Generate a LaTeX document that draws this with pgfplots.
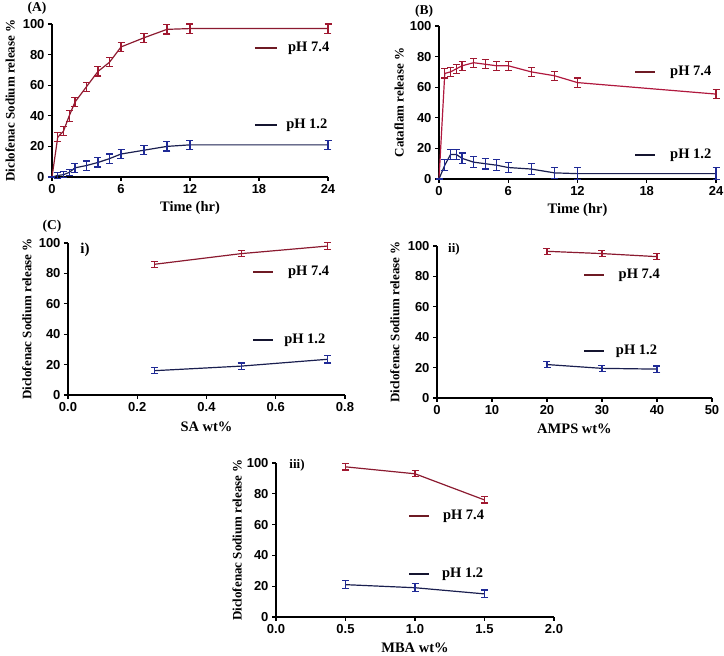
\documentclass[border=0pt]{standalone}
\usepackage{pgfplots}
\pgfplotsset{compat=1.18}
\usepackage{fontspec}
\setmainfont{Liberation Serif}
\setsansfont{Liberation Sans}
\definecolor{cR}{HTML}{8B1A30}
\definecolor{eR}{HTML}{A01830}
\definecolor{cRB}{HTML}{B0183E}
\definecolor{cB}{HTML}{1A1F50}
\definecolor{eB}{HTML}{1F2A96}
\definecolor{lR}{HTML}{6E1A24}
\definecolor{lB}{HTML}{151530}
\newcommand{\tk}[1]{\textsf{\textbf{\fontsize{13}{13}\selectfont #1}}}
\pgfplotsset{
 mystyle/.style={scale only axis, axis lines=left, axis line style={-, line width=1.3pt},
  tick align=outside, major tick length=4pt, tick style={black, line width=1.2pt},
  xticklabel={\tk{\pgfmathprintnumber[assume math mode=true]{\tick}}},
  yticklabel={\tk{\pgfmathprintnumber[assume math mode=true]{\tick}}},
  ylabel style={font=\fontsize{13}{13}\selectfont\bfseries},
  xlabel style={font=\fontsize{14.5}{14.5}\selectfont\bfseries},
  clip=false, ymin=0, ymax=100, ytick={0,20,...,100},
  anchor=south west},
 serR/.style={color=#1, line width=1.2pt, mark=none,
  /pgfplots/error bars/y dir=both, /pgfplots/error bars/y explicit,
  /pgfplots/error bars/error bar style={line width=1.2pt, color=eR},
  /pgfplots/error bars/error mark options={rotate=90, mark size=3.5pt, line width=1.2pt, color=eR}},
 serB/.style={color=cB, line width=1.2pt, mark=none,
  /pgfplots/error bars/y dir=both, /pgfplots/error bars/y explicit,
  /pgfplots/error bars/error bar style={line width=1.2pt, color=eB},
  /pgfplots/error bars/error mark options={rotate=90, mark size=3.5pt, line width=1.2pt, color=eB}},
}
\newcommand{\legfont}{\fontsize{14.5}{14.5}\selectfont\bfseries}
\newcommand{\mylegend}[6]{%
 \draw[lR, line width=1.6pt] (axis description cs:#1,#3) -- (axis description cs:#2,#3);
 \node[anchor=west, font=\legfont, inner sep=0pt] at (axis description cs:#4,#3) {pH 7.4};
 \draw[lB, line width=1.6pt] (axis description cs:#1,#5) -- (axis description cs:#2,#5);
 \node[anchor=west, font=\legfont, inner sep=0pt] at (axis description cs:#6,#5) {pH 1.2};
}
\begin{document}
\begin{tikzpicture}
\useasboundingbox (0,0) rectangle (724pt,656pt);
% (A)
\begin{axis}[mystyle, at={(52pt,479pt)}, width=276pt, height=153pt,
  xmin=0, xmax=24, xtick={0,6,12,18,24},
  xlabel={Time (hr)}, ylabel={Diclofenac Sodium release \%},
  xlabel style={at={(axis description cs:0.5,-0.20)}, anchor=center},
  ylabel style={at={(axis description cs:-0.152,0.5)}, anchor=center}]
\addplot[serR=cR] table[y error=e] {
x y e
0 0 0
0.5 26 3
1 30 3
1.5 40 3.5
2 49 3
3 59 3
4 69 3
5 75 3
6 85 3
8 91 3
10 96.5 3
12 97 3
24 97 3
};
\addplot[serB] table[y error=e] {
x y e
0 0 0
0.5 1 2
1 1.5 2
1.5 3 2
2 6 3
3 7.5 3
4 9.5 3
5 12 3
6 15 3
8 17.5 3
10 20 3
12 21 3
24 21 3
};
\mylegend{0.735}{0.815}{0.843}{0.855}{0.34}{0.848}
\end{axis}
% (B)
\begin{axis}[mystyle, at={(439pt,477pt)}, width=277pt, height=153pt,
  xmin=0, xmax=24, xtick={0,6,12,18,24},
  xlabel={Time (hr)}, ylabel={Cataflam release \%},
  xlabel style={at={(axis description cs:0.5,-0.20)}, anchor=center},
  ylabel style={at={(axis description cs:-0.144,0.5)}, anchor=center}]
\addplot[serR=cRB] table[y error=e] {
x y e
0 0 0
0.5 69 3
1 70 3
1.5 72 3
2 74 3
3 76 3
4 75 3
5 74 3
6 74 3
8 70 3
10 67.5 3
12 63 3
24 55.5 3
};
\addplot[serB] table[y error=e] {
x y e
0 0 0
0.5 9 3.5
1 16 3.5
1.5 16 3.5
2 13.5 3.5
3 11 3.5
4 10 3.5
5 9 3.5
6 7.5 3.5
8 6.5 3.5
10 4 3.5
12 3.5 4
24 3.5 4
};
\mylegend{0.708}{0.78}{0.70}{0.834}{0.157}{0.834}
\end{axis}
% (C) i
\begin{axis}[mystyle, at={(68pt,261pt)}, width=277pt, height=152pt,
  xmin=0, xmax=0.8, xtick={0,0.2,...,0.8},
  xticklabel={\tk{\pgfmathprintnumber[assume math mode=true, fixed, fixed zerofill, precision=1]{\tick}}},
  xlabel={SA wt\%}, ylabel={Diclofenac Sodium release \%},
  xlabel style={at={(axis description cs:0.5,-0.21)}, anchor=center},
  ylabel style={at={(axis description cs:-0.148,0.5)}, anchor=center}]
\addplot[serR=cR] table[y error=e] {
x y e
0.25 86 2
0.5 93 2
0.75 98 2.5
};
\addplot[serB] table[y error=e] {
x y e
0.25 16 2
0.5 19 2
0.75 23.5 2.5
};
\mylegend{0.668}{0.74}{0.81}{0.794}{0.36}{0.78}
\end{axis}
% ii
\begin{axis}[mystyle, at={(437pt,258pt)}, width=275pt, height=152pt,
  xmin=0, xmax=50, xtick={0,10,...,50},
  xlabel={AMPS wt\%}, ylabel={Diclofenac Sodium release \%},
  xlabel style={at={(axis description cs:0.5,-0.20)}, anchor=center},
  ylabel style={at={(axis description cs:-0.153,0.5)}, anchor=center}]
\addplot[serR=cR] table[y error=e] {
x y e
20 96.5 2
30 95 2
40 93 2
};
\addplot[serB] table[y error=e] {
x y e
20 22 2
30 19.5 2
40 19 2
};
\mylegend{0.535}{0.607}{0.81}{0.66}{0.31}{0.65}
\end{axis}
% iii
\begin{axis}[mystyle, at={(276pt,39pt)}, width=278pt, height=154pt,
  xmin=0, xmax=2, xtick={0,0.5,...,2},
  xticklabel={\tk{\pgfmathprintnumber[assume math mode=true, fixed, fixed zerofill, precision=1]{\tick}}},
  xlabel={MBA wt\%}, ylabel={Diclofenac Sodium release \%},
  xlabel style={at={(axis description cs:0.5,-0.20)}, anchor=center},
  ylabel style={at={(axis description cs:-0.14,0.5)}, anchor=center}]
\addplot[serR=cR] table[y error=e] {
x y e
0.5 97.5 2
1.0 93 2
1.5 76 2
};
\addplot[serB] table[y error=e] {
x y e
0.5 21 2.5
1.0 19 2.5
1.5 15 2.5
};
\mylegend{0.48}{0.55}{0.656}{0.60}{0.28}{0.597}
\end{axis}
% panel labels
\node[font=\fontsize{13.5}{13.5}\selectfont\bfseries] at (37pt,648pt) {(A)};
\node[font=\fontsize{13.5}{13.5}\selectfont\bfseries] at (424pt,645pt) {(B)};
\node[font=\fontsize{13.5}{13.5}\selectfont\bfseries] at (52pt,430pt) {(C)};
\node[font=\fontsize{15}{15}\selectfont\bfseries] at (85pt,406pt) {i)};
\node[font=\fontsize{13}{13}\selectfont\bfseries] at (454pt,407pt) {ii)};
\node[font=\fontsize{13}{13}\selectfont\bfseries] at (297pt,191pt) {iii)};
\end{tikzpicture}
\end{document}
